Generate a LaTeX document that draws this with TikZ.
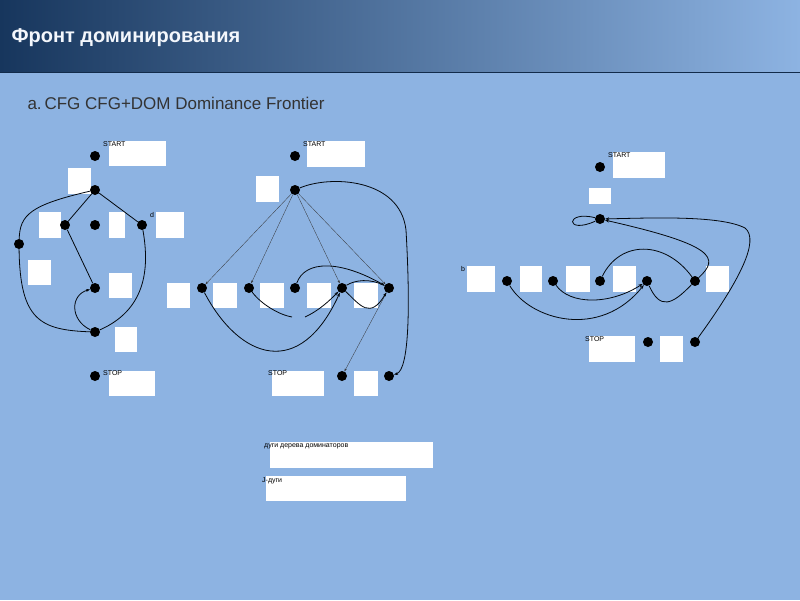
\documentclass[tikz,border=0pt]{standalone}
\usepackage{fontspec}
\setmainfont{Liberation Sans}
\usetikzlibrary{arrows.meta}
\definecolor{bg}{HTML}{8DB3E2}
\definecolor{navy}{HTML}{17365D}
\begin{document}
\begin{tikzpicture}[x=1pt,y=-1pt,
  dot/.style={circle,fill=black,inner sep=0pt,minimum size=10pt},
  wbox/.style={fill=white,draw=none},
  lab/.style={font=\fontsize{7}{8}\selectfont,inner sep=0pt,anchor=north west},
  edge/.style={draw=black!85!navy,line width=0.8pt},
  dom/.style={draw=black!80,line width=0.3pt,-{Stealth[length=3pt,width=2pt]}},
  arr/.style={edge,-{Stealth[length=4pt,width=3pt]}}]
\useasboundingbox (0,0) rectangle (800,600);
\fill[bg] (0,0) rectangle (800,600);
\shade[left color=navy,right color=bg] (0,0) rectangle (800,72);
\draw[navy!80!black,line width=1pt] (0,72) -- (800,72);
\node[anchor=west,text=white!90!bg,font=\bfseries\fontsize{20}{24}\selectfont] (title) at (8,38) {Фронт доминирования};
\node[anchor=west,text=black!80,font=\fontsize{17}{20}\selectfont] (sub) at (24,103) {a.\,CFG CFG+DOM Dominance Frontier};
% white boxes
\foreach \a/\b/\c/\d in {109/141/166/166,68/168/91/194,39/212/61/238,109/212/125/238,156/212/184/238,28/260/51/285,109/273/132/298,115/327/137/352,109/371/155/396,
307/141/365/167,256/176/279/202,167/283/190/308,213/283/237/308,260/283/284/308,307/283/331/308,354/283/378/308,272/371/324/396,354/371/378/396,
613/152/665/178,589/188/611/204,467/266/495/292,520/266/542/292,566/266/590/292,613/266/636/292,706/266/729/292,589/336/635/362,660/336/683/362,
270/442/433/468,266/476/406/501}
  \fill[wbox] (\a,\b) rectangle (\c,\d);
% left graph
\node[dot] (ls) at (95,156) {}; \node[lab] (lsl) at (103,141) {START};
\node[dot] (la) at (95,190) {};
\node[dot] (lb) at (65,225) {};
\node[dot] (lc) at (95,225) {};
\node[dot] (ld) at (142,225) {}; \node[lab] (ldl) at (150,212) {d};
\node[dot] (le) at (19,244) {};
\node[dot] (lf) at (95,288) {};
\node[dot] (lg) at (95,332) {};
\node[dot] (lt) at (95,376) {}; \node[lab] (ltl) at (103,370) {STOP};
\draw[edge] (la) -- (lb); \draw[edge] (la) -- (ld); \draw[edge] (lb) -- (lf);
\draw[edge] (la) .. controls (30,205) and (20,215) .. (le);
\draw[edge] (le) .. controls (20,320) and (40,330) .. (lg);
\draw[arr] (lg) .. controls (70,320) and (70,295) .. (lf);
\draw[edge] (ld) .. controls (150,270) and (145,310) .. (lg);
% middle graph
\node[dot] (ms) at (295,156) {}; \node[lab] (msl) at (303,141) {START};
\node[dot] (ma) at (295,190) {};
\node[dot] (m1) at (202,288) {};
\node[dot] (m2) at (249,288) {};
\node[dot] (m3) at (295,288) {};
\node[dot] (m4) at (342,288) {};
\node[dot] (m5) at (389,288) {};
\node[dot] (mt1) at (342,376) {};
\node[dot] (mt2) at (389,376) {};
\node[lab] (mtl) at (268,370) {STOP};
\foreach \t in {m1,m2,m4,m5} \draw[dom] (ma) -- (\t);
\draw[dom] (m5) -- (mt1);
\draw[arr] (ma) .. controls (330,175) and (400,178) .. (406,230) .. controls (410,300) and (410,370) .. (mt2);
\draw[arr] (m1) .. controls (240,360) and (300,380) .. (m4);
\draw[edge] (m2) .. controls (262,305) and (280,315) .. (292,317);
\draw[arr] (305,317) .. controls (320,310) and (330,300) .. (m4);
\draw[arr] (m3) .. controls (305,260) and (340,260) .. (m5);
\draw[arr] (m4) .. controls (360,305) and (370,320) .. (m5);
\draw[edge] (m4) .. controls (355,280) and (370,278) .. (m5);
% right graph
\node[dot] (rs) at (600,167) {}; \node[lab] (rsl) at (608,152) {START};
\node[dot] (rn) at (600,219) {};
\node[dot] (r1) at (507,281) {}; \node[lab] (rbl) at (461,266) {b};
\node[dot] (r2) at (553,281) {};
\node[dot] (r3) at (600,281) {};
\node[dot] (r4) at (647,281) {};
\node[dot] (r5) at (695,281) {};
\node[dot] (rt1) at (648,342) {};
\node[dot] (rt2) at (695,342) {};
\node[lab] (rtl) at (585,336) {STOP};
\draw[edge] (rn) .. controls (565,210) and (565,235) .. (rn);
\draw[arr] (r1) .. controls (530,320) and (600,340) .. (r4);
\draw[arr] (r2) .. controls (570,305) and (610,305) .. (r4);
\draw[edge] (r3) .. controls (620,240) and (665,240) .. (r5);
\draw[edge] (r4) .. controls (660,310) and (672,305) .. (r5);
\draw[arr] (r5) .. controls (720,258) and (715,245) .. (rn);
\draw[arr] (rt2) .. controls (740,280) and (760,240) .. (745,228) .. controls (720,215) and (650,218) .. (rn);
% legend
\node[lab] (l1) at (264,444) {дуги дерева доминаторов};
\node[lab] (l2) at (262,477) {J-дуги};
\end{tikzpicture}
\end{document}
